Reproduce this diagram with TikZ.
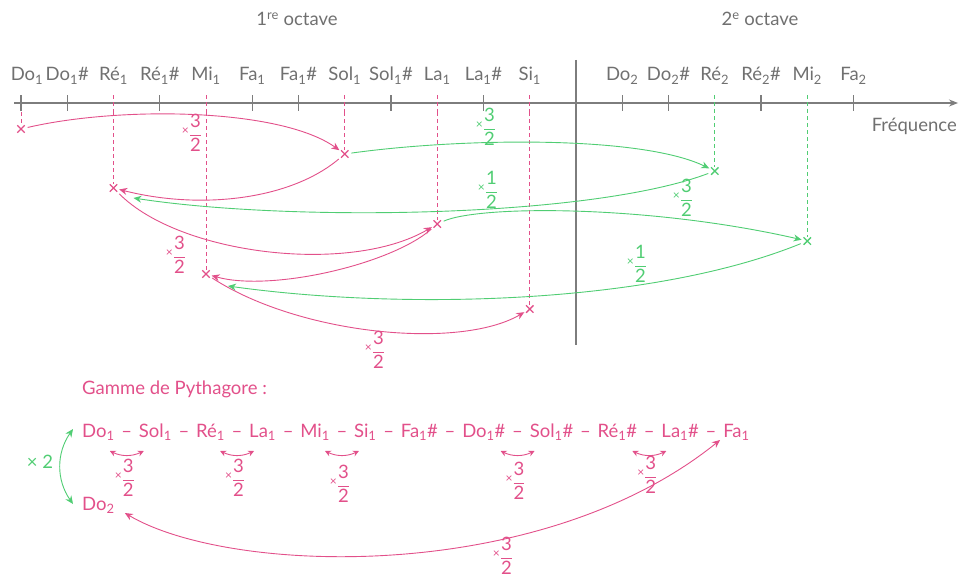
\documentclass[tikz,border=0pt]{standalone}
\usepackage{fontspec}
\setmainfont{Lato}
\usetikzlibrary{arrows.meta,shapes.misc,calc}
\definecolor{pk}{RGB}{226,80,138}
\definecolor{gn}{RGB}{80,205,115}
\definecolor{gr}{RGB}{112,112,112}
\definecolor{axc}{RGB}{125,125,125}
\newcommand\ix[1]{\textsubscript{#1}}
\newcommand\fr[2]{$\displaystyle\frac{\mbox{#1}}{\mbox{#2}}$}
\newcommand\mfr[2]{\raisebox{5.5pt}{\fontsize{12}{12}\selectfont ×}\fr{#1}{#2}}
\newcommand\dsh{\hspace*{6.4pt}–\hspace*{6.4pt}}
\tikzset{
  base/.style={font=\fontsize{18.5}{22}\selectfont, inner sep=0pt},
  glbl/.style={base, text=gr},
  plbl/.style={base, text=pk},
  glab/.style={base, text=gn},
  axline/.style={draw=axc, line width=1.1pt},
  tick/.style={draw=axc, line width=1.1pt},
  xmk/.style={cross out, draw, line width=1.4pt, minimum size=6pt, inner sep=0pt},
  pkx/.style={xmk, draw=pk},
  gnx/.style={xmk, draw=gn},
  pdash/.style={draw=pk, line width=0.8pt, dash pattern=on 4pt off 3pt},
  gdash/.style={draw=gn, line width=0.8pt, dash pattern=on 4pt off 3pt},
  parr/.style={draw=pk, line width=0.9pt, -{Stealth[length=8pt,width=7pt]}, shorten <=3pt, shorten >=2pt},
  garr/.style={draw=gn, line width=0.9pt, -{Stealth[length=8pt,width=7pt]}, shorten <=3pt, shorten >=2pt},
  pdbl/.style={draw=pk, line width=0.9pt, {Stealth[length=8pt,width=7pt]}-{Stealth[length=8pt,width=7pt]}},
  psml/.style={draw=pk, line width=0.9pt, {Stealth[length=6pt,width=6pt]}-{Stealth[length=6pt,width=6pt]}},
  gdbl/.style={draw=gn, line width=0.9pt, {Stealth[length=8pt,width=7pt]}-{Stealth[length=8pt,width=7pt]}},
}
\begin{document}
\begin{tikzpicture}[x=1pt,y=-1pt]
\useasboundingbox (0,0) rectangle (971,578);
% axis
\coordinate (axL) at (14,103);
\coordinate (axR) at (958,103);
\draw[axline, -{Stealth[length=9pt,width=7pt]}] (axL) -- (axR);
\coordinate (sepT) at (576,60);
\coordinate (sepB) at (576,345);
\draw[axline] (sepT) -- (sepB);
\foreach \i in {0,1,3,5,6,8,10,13,14,16,18}
  \draw[tick] ({21+46.25*\i},95) -- ({21+46.25*\i},111);
% labels
\foreach \i/\t in {0/{Do\ix{1}},1/{Do\ix{1}\#},2/{Ré\ix{1}},3/{Ré\ix{1}\#},4/{Mi\ix{1}},5/{Fa\ix{1}},6/{Fa\ix{1}\#},7/{Sol\ix{1}},8/{Sol\ix{1}\#},9/{La\ix{1}},10/{La\ix{1}\#},11/{Si\ix{1}},13/{Do\ix{2}},14/{Do\ix{2}\#},15/{Ré\ix{2}},16/{Ré\ix{2}\#},17/{Mi\ix{2}},18/{Fa\ix{2}}}
  \node[glbl, anchor=base] (L\i) at ({21+46.25*\i+(\i==0?6:0)},81) {\t};
\node[glbl] (oct1) at (297,19) {1\textsuperscript{re} octave};
\node[glbl] (oct2) at (760,19) {2\textsuperscript{e} octave};
\node[glbl, anchor=east] (freq) at (957,126) {Fréquence};
% points
\node[pkx] (pDo1) at (21,129) {};
\node[pkx] (pRe1) at (113.5,188) {};
\node[pkx] (pMi1) at (206,274) {};
\node[pkx] (pSol1) at (344.75,154) {};
\node[pkx] (pLa1) at (437.25,224) {};
\node[pkx] (pSi1) at (529.75,309) {};
\node[gnx] (pRe2) at (714.75,171) {};
\node[gnx] (pMi2) at (807.25,241) {};
% dashed drops
\foreach \p/\x in {pDo1/21,pRe1/113.5,pMi1/206,pSol1/344.75,pLa1/437.25,pSi1/529.75}
  \draw[pdash] (\x,112) -- (\p.north);
\foreach \p/\x in {pRe1/113.5,pMi1/206,pSol1/344.75,pLa1/437.25,pSi1/529.75}
  \draw[pdash] (\x,95) -- (\x,112);
\foreach \p/\x in {pRe2/714.75,pMi2/807.25}
  \draw[gdash] (\x,95) -- (\p.north);
% pink arrows
\draw[parr] (pDo1) .. controls (120,106) and (280,108) .. (pSol1);
\draw[parr] (pSol1) .. controls (290,200) and (200,210) .. (pRe1);
\draw[parr] (pRe1) .. controls (180,255) and (350,275) .. (pLa1);
\draw[parr] (pLa1) .. controls (390,265) and (270,292) .. (pMi1);
\draw[parr] (pMi1) .. controls (300,335) and (460,350) .. (pSi1);
% green arrows
\draw[garr] (pSol1) .. controls (460,138) and (640,135) .. (pRe2);
\draw[garr, shorten >=0pt] (pRe2) .. controls (590,218) and (290,222) .. ($(pRe1)+(20,10)$);
\draw[garr] (pLa1) .. controls (480,205) and (650,205) .. (pMi2);
\draw[garr, shorten >=0pt] (pMi2) .. controls (650,305) and (400,310) .. ($(pMi1)+(22,12)$);
% labels on arrows
\node[plbl] (lp1) at (192,133) {\mfr{3}{2}};
\node[plbl] (lp2) at (176,255) {\mfr{3}{2}};
\node[plbl] (lp3) at (375,350) {\mfr{3}{2}};
\node[glab] (lg1) at (486,127) {\mfr{3}{2}};
\node[glab] (lg2) at (488,190) {\mfr{1}{2}};
\node[glab] (lg3) at (683,198) {\mfr{3}{2}};
\node[glab] (lg4) at (637,264) {\mfr{1}{2}};
% Pythagore
\node[plbl, anchor=west] (gam) at (82,389) {Gamme de Pythagore :};
\node[plbl, anchor=base west] (s1) at (82,437) {Do\ix{1}};
\node[plbl, anchor=base west] (d1) at (s1.base east) {\dsh};
\node[plbl, anchor=base west] (s2) at (d1.base east) {Sol\ix{1}};
\node[plbl, anchor=base west] (d2) at (s2.base east) {\dsh};
\node[plbl, anchor=base west] (s3) at (d2.base east) {Ré\ix{1}};
\node[plbl, anchor=base west] (d3) at (s3.base east) {\dsh};
\node[plbl, anchor=base west] (s4) at (d3.base east) {La\ix{1}};
\node[plbl, anchor=base west] (d4) at (s4.base east) {\dsh};
\node[plbl, anchor=base west] (s5) at (d4.base east) {Mi\ix{1}};
\node[plbl, anchor=base west] (d5) at (s5.base east) {\dsh};
\node[plbl, anchor=base west] (s6) at (d5.base east) {Si\ix{1}};
\node[plbl, anchor=base west] (d6) at (s6.base east) {\dsh};
\node[plbl, anchor=base west] (s7) at (d6.base east) {Fa\ix{1}\#};
\node[plbl, anchor=base west] (d7) at (s7.base east) {\dsh};
\node[plbl, anchor=base west] (s8) at (d7.base east) {Do\ix{1}\#};
\node[plbl, anchor=base west] (d8) at (s8.base east) {\dsh};
\node[plbl, anchor=base west] (s9) at (d8.base east) {Sol\ix{1}\#};
\node[plbl, anchor=base west] (d9) at (s9.base east) {\dsh};
\node[plbl, anchor=base west] (s10) at (d9.base east) {Ré\ix{1}\#};
\node[plbl, anchor=base west] (d10) at (s10.base east) {\dsh};
\node[plbl, anchor=base west] (s11) at (d10.base east) {La\ix{1}\#};
\node[plbl, anchor=base west] (d11) at (s11.base east) {\dsh};
\node[plbl, anchor=base west] (s12) at (d11.base east) {Fa\ix{1}};
\node[plbl, anchor=base west] (do2) at (82,510) {Do\ix{2}};
% small x3/2 arrows
\foreach \a/\b/\dy in {s1/s2/41,s3/s4/41,s5/s6/47,s8/s9/44,s10/s11/38}{
  \draw[psml] ($(\a.base east)+(-5,14)$) to[bend right=25] ($(\b.base west)+(5,14)$);
  \node[plbl] at ($(\a.base east)!0.5!(\b.base west)+(-2,\dy)$) {\mfr{3}{2}};
}
% big arrow
\draw[pdbl] ($(do2.base east)+(10,3)$) .. controls (230,575) and (540,585) .. ($(s12.base west)+(-3,3)$);
\node[plbl] (lbig) at (503,556) {\mfr{3}{2}};
% x2 arrow
\draw[gdbl] ($(s1.base west)+(-9,-8)$) to[bend right=35] ($(do2.base west)+(-9,-6)$);
\node[glab] (l2) at (40,462) {× 2};
\end{tikzpicture}
\end{document}
